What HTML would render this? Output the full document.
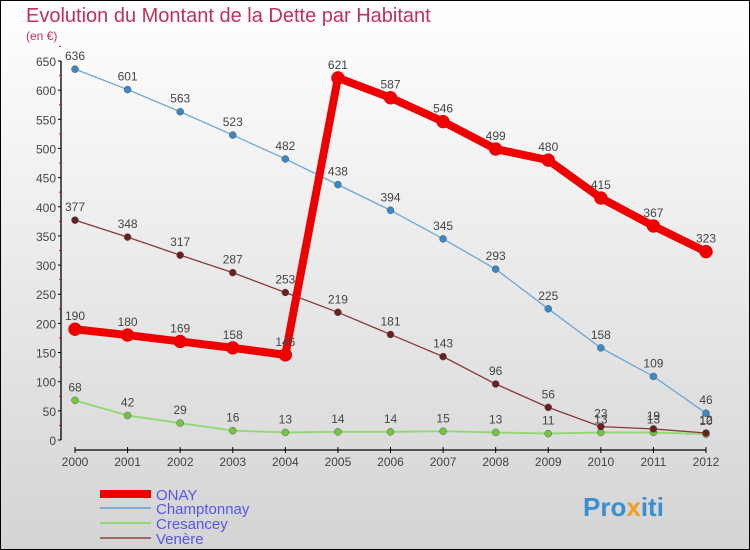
<!DOCTYPE html>
<html><head><meta charset="utf-8"><style>
body{margin:0;width:750px;height:550px;overflow:hidden;font-family:"Liberation Sans",sans-serif}
#wrap{position:absolute;left:0;top:0;width:748px;height:548px;border:1px solid #000;background:linear-gradient(#ffffff,#d4d4d4)}
</style></head><body>
<div id="wrap">
<svg id="chart" width="750" height="550" style="position:absolute;left:-1px;top:-1px">
<text x="26" y="22" font-size="20" fill="#c0305a">Evolution du Montant de la Dette par Habitant</text>
<text x="26" y="40" font-size="12" fill="#c0305a">(en €)</text>
<g id="axes"></g><g id="series"></g>
<g>
<rect x="100" y="490" width="51" height="8" fill="#ee0000"/>
<text x="156" y="500" font-size="15" fill="#5555ee">ONAY</text>
<rect x="100" y="507" width="51" height="2" fill="#7aaed6"/>
<text x="156" y="514" font-size="15" fill="#5555ee">Champtonnay</text>
<rect x="100" y="522" width="51" height="2" fill="#90d870"/>
<text x="156" y="529" font-size="15" fill="#5555ee">Cresancey</text>
<rect x="100" y="537" width="51" height="2" fill="#a06868"/>
<text x="156" y="544" font-size="15" fill="#5555ee">Venère</text>
</g>
<text x="583" y="516" font-size="26" font-weight="bold" fill="#3a8fd0">Pro<tspan fill="#f0a020">x</tspan>iti</text>
</svg></div>
<script>
const years=[2000,2001,2002,2003,2004,2005,2006,2007,2008,2009,2010,2011,2012];
const yTicks=[0,50,100,150,200,250,300,350,400,450,500,550,600,650];
const onay=[190,180,169,158,146,621,587,546,499,480,415,367,323];
const champtonnay=[636,601,563,523,482,438,394,345,293,225,158,109,46];
const cresancey=[68,42,29,16,13,14,14,15,13,11,13,13,10];
const venere=[377,348,317,287,253,219,181,143,96,56,23,19,12];
const NS="http://www.w3.org/2000/svg";
const X=i=>75+i*(706-75)/12;
const Y=v=>440-v*(379/650);
function mk(tag,attrs,parent){const e=document.createElementNS(NS,tag);for(const k in attrs)e.setAttribute(k,attrs[k]);parent.appendChild(e);return e;}
const ax=document.getElementById('axes');
let yl=mk('line',{x1:61,y1:Y(650),x2:61,y2:Y(0),stroke:'#000','stroke-width':1.3},ax);


yTicks.forEach(v=>{
 mk('line',{x1:58,y1:Y(v),x2:61,y2:Y(v),stroke:'#000'},ax);
 mk('line',{x1:59,y1:Y(v+25),x2:61,y2:Y(v+25),stroke:'#e00'},ax);
 const t=mk('text',{x:56,y:Y(v)+5,'text-anchor':'end','font-size':12,fill:'#444'},ax);
 t.textContent=v;
 
 
});
let xl=mk('line',{x1:75,y1:450,x2:706,y2:450,stroke:'#000','stroke-width':1.3},ax);


years.forEach((y,i)=>{
 mk('line',{x1:X(i),y1:447,x2:X(i),y2:453,stroke:'#000'},ax);
 const t=mk('text',{x:X(i),y:466,'text-anchor':'middle','font-size':12,fill:'#444'},ax);
 t.textContent=y;
 
 
});
const sg=document.getElementById('series');
function draw(name,vals,color,dot,w,r,segs){
 const g=mk('g',{},sg);
 
 
 segs.forEach(([a,b])=>{
  const pts=vals.slice(a,b+1).map((v,j)=>X(a+j)+','+Y(v)).join(' ');
  mk('polyline',{points:pts,fill:'none',stroke:color,'stroke-width':w,'stroke-linejoin':'round'},g);
 });
 vals.forEach((v,i)=>{
  const c=mk('circle',{cx:X(i),cy:Y(v),r:r,fill:dot,stroke:dot==='#e00'?'#e00':'#555','stroke-width':0.5},g);
  
  
  const t=mk('text',{x:X(i),y:Y(v)-9,'text-anchor':'middle','font-size':12,fill:'#444'},g);
  t.textContent=v;
  
  
 });
}
draw('champtonnay',champtonnay,'#6aa8d8','#3a88c8',1.3,3.5,[[0,12]]);
draw('cresancey',cresancey,'#90d870','#70c840',1.8,3.5,[[0,12]]);
draw('venere',venere,'#8a3a3a','#6a2020',1.3,3.5,[[0,12]]);
draw('onay',onay,'#e00','#e00',8,6.5,[[0,12]]);
</script>
</body></html>
